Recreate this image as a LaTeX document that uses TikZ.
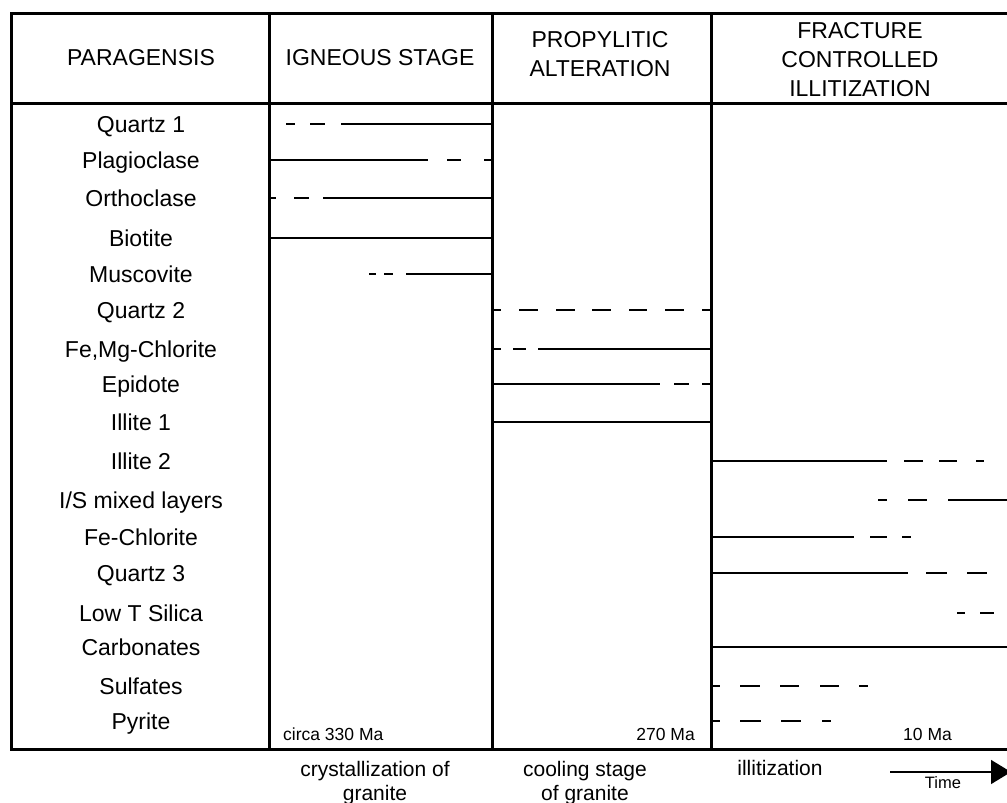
\documentclass[tikz,border=0pt]{standalone}
\usepackage{fontspec}
\setmainfont{Liberation Sans}
\usetikzlibrary{arrows.meta}
\tikzset{
  frame/.style={line width=3pt},
  bar/.style={line width=2.8pt},
  lbl/.style={anchor=base, inner sep=0pt, font=\fontsize{23}{28}\selectfont},
  hdr/.style={anchor=base, inner sep=0pt, align=center, font=\fontsize{23}{29}\selectfont},
  age/.style={inner sep=0pt, font=\fontsize{17.5}{21}\selectfont},
  note/.style={anchor=base, inner sep=0pt, align=center, font=\fontsize{21}{24}\selectfont},
}
\begin{document}
\begin{tikzpicture}[x=1pt,y=-1pt]
\useasboundingbox (0,0) rectangle (1007,803);
% frame
\draw[frame] (1012,13) -- (11,13) -- (11,749) -- (1012,749);
\draw[frame] (11,103) -- (1012,103);
\draw[frame] (269,13) -- (269,749);
\draw[frame] (492,13) -- (492,749);
\draw[frame] (711,13) -- (711,749);
% headers (base anchor = baseline of last line)
\node[hdr] (hpar) at (141,65) {PARAGENSIS};
\node[hdr] (hign) at (380,65) {IGNEOUS STAGE};
\node[hdr] (hpro) at (600,76) {PROPYLITIC\\ALTERATION};
\node[hdr] (hfra) at (860,96) {FRACTURE\\CONTROLLED\\ILLITIZATION};
% mineral labels
\foreach \y/\t [count=\i] in {124/Quartz 1,160/Plagioclase,198/Orthoclase,238/Biotite,274/Muscovite,
  310/Quartz 2,349/{Fe,Mg-Chlorite},384/Epidote,422/Illite 1,461/Illite 2,500/I\slash S mixed layers,
  537/Fe-Chlorite,573/Quartz 3,613/Low T Silica,647/Carbonates,686/Sulfates,721/Pyrite}
  \node[lbl] (m\i) at (141,\y+8) {\t};
% bars
\foreach \y/\a/\b in {
  124/286/295, 124/310/325, 124/341/492,
  160/271/428, 160/447/461, 160/484/492,
  198/269/276, 198/294/309, 198/323/492,
  238/269/492,
  274/369/376, 274/384/393, 274/406/492,
  310/492/501, 310/519/538, 310/556/575, 310/592/611, 310/629/647, 310/665/684, 310/702/711,
  349/492/501, 349/513/526, 349/538/711,
  384/492/660, 384/674/689, 384/702/711,
  422/492/711,
  461/711/887, 461/904/923, 461/939/957, 461/976/984,
  500/878/887, 500/908/927, 500/948/1012,
  537/711/854, 537/870/887, 537/902/911,
  573/711/908, 573/926/947, 573/967/987,
  613/957/965, 613/980/994,
  647/711/1012,
  686/711/720, 686/740/760, 686/780/799, 686/820/839, 686/859/868,
  721/711/720, 721/740/761, 721/781/801, 721/822/831}
  \draw[bar] (\a,\y) -- (\b,\y);
% ages
\node[age, anchor=base west] (a330) at (283,740) {circa 330 Ma};
\node[age, anchor=base east] (a270) at (695,740) {270 Ma};
\node[age, anchor=base west] (a10) at (903,740) {10 Ma};
% stage notes
\node[note] (n1) at (375,800) {crystallization of\\granite};
\node[note] (n2) at (585,800) {cooling stage\\of granite};
\node[note] (n3) at (780,775) {illitization};
\coordinate (tstart) at (890,772);
\coordinate (tend) at (1011,772);
\draw[line width=1.4pt, -{Triangle[length=20pt,width=24pt]}] (tstart) -- (tend);
\node[age, anchor=base, font=\fontsize{16.5}{20}\selectfont] (time) at (943,788) {Time};
\end{tikzpicture}
\end{document}
